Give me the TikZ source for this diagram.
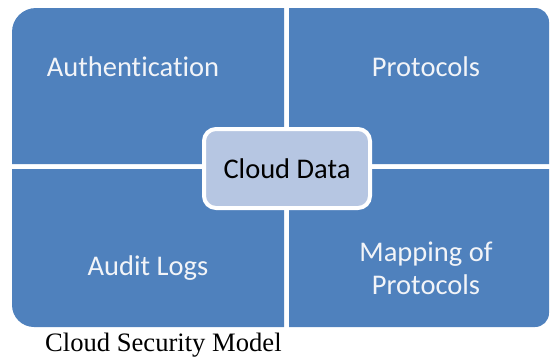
\documentclass[tikz,border=0pt]{standalone}
\usepackage{fontspec}
\setmainfont{Carlito}[Ligatures=NoCommon]
\newfontfamily\capfont{Liberation Serif}
\definecolor{quadblue}{HTML}{4F81BD}
\definecolor{centerfill}{RGB}{182,198,226}
\definecolor{quadtext}{RGB}{242,244,248}
\begin{document}
\begin{tikzpicture}[x=1pt,y=-1pt,
  quad/.style={fill=quadblue,draw=none},
  quadlabel/.style={text=quadtext,font=\fontsize{28.5}{33}\selectfont,align=center,inner sep=0pt},
  centerbox/.style={fill=centerfill,draw=white,line width=4pt,rounded corners=12pt},
  caption/.style={font=\capfont\fontsize{26.6}{30}\selectfont,inner sep=0pt}]
\useasboundingbox (0,0) rectangle (551,359);
% quadrants
\fill[quad] (12,164) [rounded corners=24pt] -- (12,8) [sharp corners] -- (284,8) -- (284,164) -- cycle;
\fill[quad] (289,8) [rounded corners=14pt] -- (549,8) [sharp corners] -- (549,164) -- (289,164) -- cycle;
\fill[quad] (284,169) -- (12,169) [rounded corners=22pt] -- (12,327) [sharp corners] -- (284,327) -- cycle;
\fill[quad] (289,169) -- (549,169) [rounded corners=14pt] -- (549,327) [sharp corners] -- (289,327) -- cycle;
% center
\node[centerbox,minimum width=166pt,minimum height=79pt,inner sep=0pt,
  font=\fontsize{28.5}{33}\selectfont] (cloud) at (287,168.5) {Cloud Data};
% labels
\node[quadlabel] (auth) at (133,67) {Authentication};
\node[quadlabel] (prot) at (426,67) {Protocols};
\node[quadlabel] (audit) at (148,268) {Audit Logs};
\node[quadlabel] (map) at (426,268) {Mapping of\\Protocols};
\node[caption,anchor=west] (cap) at (45,345) {Cloud Security Model};
\end{tikzpicture}
\end{document}
